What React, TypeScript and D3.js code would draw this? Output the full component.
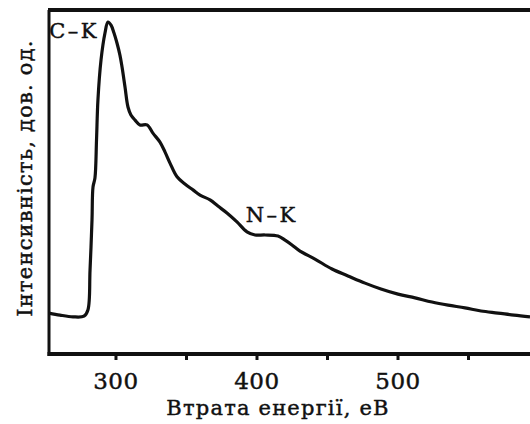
import React from "react";
import * as d3 from "d3";

const energy = [
  252.5, 260.3, 269.5, 277.3, 280.1, 281.6, 283.0, 283.7, 285.1, 286.2, 287.2, 289.4, 292.2,
  294.3, 296.5, 298.6, 300.7, 302.8, 304.3, 306.4, 308.5, 310.6, 313.5, 317.0, 322.0, 326.2,
  331.2, 334.8, 338.3, 343.3, 348.9, 354.6, 359.6, 366.7, 372.3, 378.7, 385.8, 392.9, 398.6,
  405.7, 414.9, 419.9, 424.8, 430.5, 441.1, 453.2, 464.5, 476.6, 487.9, 500.0, 512.1, 524.1,
  535.5, 547.5, 558.9, 570.9, 582.3, 593.6,
];
const intensity = [
  11.9, 11.3, 10.8, 11.0, 12.8, 24.4, 39.0, 48.5, 51.2, 62.2, 73.8, 85.5, 93.3,
  96.5, 95.6, 93.3, 90.4, 86.9, 83.4, 77.6, 71.8, 69.5, 68.0, 66.6, 66.6, 64.2,
  61.6, 58.7, 55.5, 51.5, 49.4, 47.7, 46.2, 44.8, 43.0, 41.0, 38.4, 35.5, 34.6,
  34.6, 34.3, 33.1, 31.7, 29.9, 27.6, 24.7, 22.7, 20.6, 18.9, 17.4, 16.3, 15.1,
  14.2, 13.4, 12.5, 11.9, 11.3, 10.8,
];
const majorTicks = [300, 400, 500];
const minorTicks = [350, 450, 550];
const edgeLabels = [
  { text: "C–K", e: 252.7, v: 92.0 },
  { text: "N–K", e: 392.0, v: 38.5 },
];
const xTitle = "Втрата енергії, еВ";
const yTitle = "Інтенсивність, дов. од.";

const W = 530;
const H = 424;
const left = 49;
const right = 530;
const top = 10;
const bottom = 354;
const font = "'DejaVu Serif', serif";
const ink = "#111";

export default function App() {
  const x = d3.scaleLinear().domain([252.5, 593.6]).range([left, right]);
  const y = d3.scaleLinear().domain([0, 100]).range([bottom, top]);
  const pts: [number, number][] = energy.map((e, i) => [e, intensity[i]]);
  const line = d3
    .line<[number, number]>()
    .x((d) => x(d[0]))
    .y((d) => y(d[1]))
    .curve(d3.curveCatmullRom.alpha(0.5));

  const textProps = { fontFamily: font, fill: ink, stroke: ink, strokeWidth: 0.45 };

  return (
    <svg
      width={W}
      height={H}
      style={{ position: "fixed", top: 0, left: 0, background: "#fff" }}
    >
      <rect width={W} height={H} fill="#fff" />
      <path d={line(pts) || ""} fill="none" stroke={ink} strokeWidth={3.2} strokeLinejoin="round" />
      <line x1={left - 1} x2={right} y1={top} y2={top} stroke={ink} strokeWidth={4} />
      <line x1={left} x2={left} y1={top} y2={bottom + 2} stroke={ink} strokeWidth={3} />
      <line x1={left - 1.5} x2={right} y1={bottom} y2={bottom} stroke={ink} strokeWidth={4} />
      {majorTicks.concat(minorTicks).map((t) => (
        <line key={t} x1={x(t)} x2={x(t)} y1={bottom} y2={bottom + 6} stroke={ink} strokeWidth={3} />
      ))}
      {majorTicks.map((t) => (
        <text key={t} x={x(t)} y={389} textAnchor="middle" fontSize={23} letterSpacing={0.6} {...textProps}>
          {t}
        </text>
      ))}
      {edgeLabels.map((l) => (
        <text key={l.text} x={x(l.e)} y={y(l.v)} fontSize={21} letterSpacing={2.5} {...textProps}>
          {l.text}
        </text>
      ))}
      <text x={278} y={415} textAnchor="middle" fontSize={21} letterSpacing={1.2} {...textProps}>
        {xTitle}
      </text>
      <text
        transform="translate(32,178) rotate(-90)"
        textAnchor="middle"
        fontSize={21}
        letterSpacing={1.2}
        {...textProps}
      >
        {yTitle}
      </text>
    </svg>
  );
}
